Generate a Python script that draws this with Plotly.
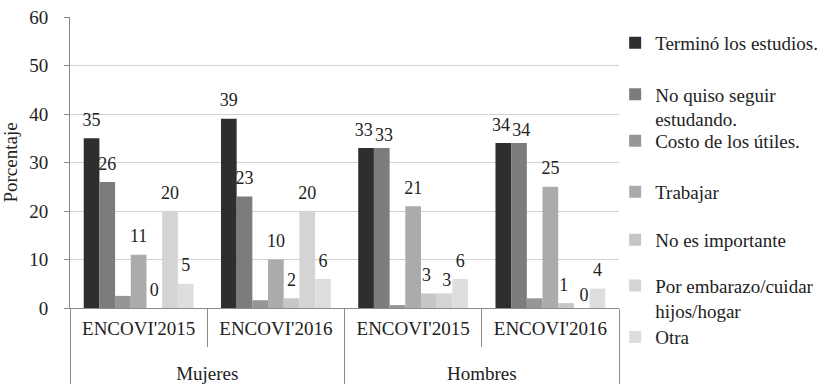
import plotly.graph_objects as go

# Two-level categories: sex (outer, dropped one line below the years) and survey year
sexo = ["<br>Mujeres", "<br>Mujeres", "<br>Hombres", "<br>Hombres"]
encuesta = ["ENCOVI'2015", "ENCOVI'2016", "ENCOVI'2015", "ENCOVI'2016"]

# Reasons for leaving school (percent)
termino = [35, 39, 33, 34]
no_quiso = [26, 23, 33, 34]
costo = [2.5, 1.6, 0.6, 2.0]
trabajar = [11, 10, 21, 25]
no_importante = [0, 2, 3, 1]
embarazo = [20, 20, 3, 0]
otra = [5, 6, 6, 4]

series = [
    ("Terminó los estudios.", termino, "#2e2e2e", True),
    ("No quiso seguir<br>estudando.", no_quiso, "#7c7c7c", True),
    ("Costo de los útiles.", costo, "#969696", False),
    ("Trabajar", trabajar, "#ababab", True),
    ("No es importante", no_importante, "#c6c6c6", True),
    ("Por embarazo/cuidar<br>hijos/hogar", embarazo, "#d4d4d4", True),
    ("Otra", otra, "#dedede", True),
]

# vertical centre of each legend entry (paper coords)
legend_y = [0.911, 0.691, 0.574, 0.399, 0.234, 0.034, -0.100]

FONT = "Liberation Serif, Times New Roman, serif"
FS = 19
GAP = 0.2
NBSP = "\u00a0"

fig = go.Figure()
for i, (name, vals, color, labelled) in enumerate(series):
    lg = "legend" if i == 0 else f"legend{i + 1}"
    fig.add_trace(go.Bar(
        x=[sexo, encuesta],
        y=vals,
        name=name,
        marker=dict(color=color, line=dict(width=0)),
        legend=lg,
        showlegend=True,
    ))

# value labels; when two neighbouring bars carry almost equal values the
# labels are nudged apart (left one left, right one right and a bit lower)
n_groups = len(encuesta)
texts = [[f"{v:.0f}" if lab else "" for v in vals] for _, vals, _, lab in series]
sizes = [[11] * n_groups for _ in series]
for s in range(len(series) - 1):
    if not (series[s][3] and series[s + 1][3]):
        continue
    for g in range(n_groups):
        if abs(series[s][1][g] - series[s + 1][1][g]) < 2:
            texts[s][g] = texts[s][g] + NBSP
            texts[s + 1][g] = NBSP + texts[s + 1][g]
            sizes[s + 1][g] = 3

for i, (name, vals, color, labelled) in enumerate(series):
    fig.add_trace(go.Scatter(
        x=[sexo, encuesta],
        y=vals,
        mode="markers+text",
        marker=dict(size=sizes[i], color="rgba(0,0,0,0)", opacity=0,
                    line=dict(width=0, color="rgba(0,0,0,0)")),
        text=texts[i],
        textposition="top center",
        textfont=dict(family=FONT, size=18, color="#222"),
        cliponaxis=False,
        showlegend=False,
        hoverinfo="skip",
    ))

layout_legends = {}
for i, y in enumerate(legend_y):
    key = "legend" if i == 0 else f"legend{i + 1}"
    layout_legends[key] = dict(
        x=0.993, xanchor="left", y=y, yanchor="middle",
        bgcolor="rgba(0,0,0,0)", borderwidth=0,
        font=dict(family=FONT, size=FS, color="#222"),
        valign="top", itemwidth=30,
    )

fig.update_layout(
    width=830, height=384,
    margin=dict(l=70, r=211, t=17, b=76, autoexpand=False),
    paper_bgcolor="white", plot_bgcolor="white",
    barmode="group", bargap=GAP, bargroupgap=0,
    scattermode="group", scattergap=GAP,
    showlegend=True,
    font=dict(family=FONT, size=FS, color="#222"),
    **layout_legends,
)

fig.update_yaxes(
    range=[0, 60], dtick=10,
    showgrid=True, gridcolor="#d2d2d2", gridwidth=1,
    showline=True, linecolor="#8a8a8a", linewidth=1,
    ticks="outside", ticklen=5, tickcolor="#8a8a8a",
    ticklabelstandoff=12,
    zeroline=False, automargin=False,
    title=dict(text="Porcentaje", font=dict(family=FONT, size=FS), standoff=6),
    tickfont=dict(family=FONT, size=FS),
)
fig.update_xaxes(
    type="multicategory", automargin=False,
    showline=True, linecolor="#8a8a8a", linewidth=1,
    ticks="outside", tickson="boundaries", ticklen=38, tickcolor="#8a8a8a",
    ticklabelstandoff=3,
    showdividers=True, dividercolor="#8a8a8a", dividerwidth=1,
    tickfont=dict(family=FONT, size=FS),
)

fig.write_html("out.html")
